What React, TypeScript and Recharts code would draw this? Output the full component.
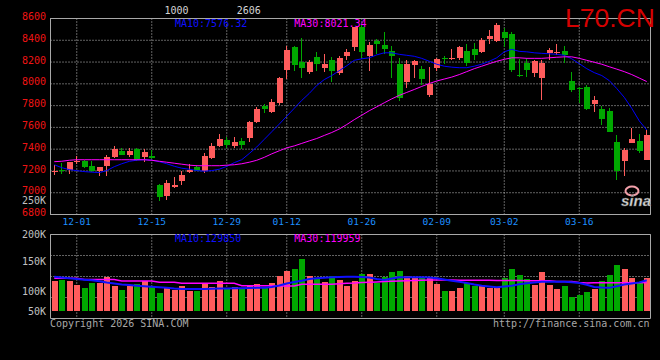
import React from 'react';
import {
  ComposedChart, Bar, Line, XAxis, YAxis, CartesianGrid, ReferenceArea, ReferenceLine,
} from 'recharts';

const DATES = [
  '11-26', '11-27', '11-28', '12-01', '12-02', '12-03', '12-04', '12-05', '12-08', '12-09',
  '12-10', '12-11', '12-12', '12-15', '12-16', '12-17', '12-18', '12-19', '12-22', '12-23',
  '12-24', '12-25', '12-26', '12-29', '12-30', '12-31', '01-05', '01-06', '01-07', '01-08',
  '01-09', '01-12', '01-13', '01-14', '01-15', '01-16', '01-19', '01-20', '01-21', '01-22',
  '01-23', '01-26', '01-27', '01-28', '01-29', '01-30', '02-02', '02-03', '02-04', '02-05',
  '02-06', '02-09', '02-10', '02-11', '02-12', '02-13', '02-24', '02-25', '02-26', '02-27',
  '03-02', '03-03', '03-04', '03-05', '03-06', '03-09', '03-10', '03-11', '03-12', '03-13',
  '03-16', '03-17', '03-18', '03-19', '03-20', '03-23', '03-24', '03-25', '03-26', '03-27',
];

const OPEN = [
  7190, 7210, 7205, 7285, 7295, 7250, 7200, 7250, 7330, 7380,
  7345, 7400, 7330, 7335, 7075, 6970, 7050, 7105, 7190, 7235,
  7195, 7315, 7425, 7485, 7430, 7475, 7500, 7645, 7795, 7740,
  7820, 8125, 8335, 8205, 8110, 8250, 8150, 8220, 8095, 8255,
  8335, 8520, 8255, 8390, 8355, 8300, 8185, 8015, 8175, 8135,
  7895, 8150, 8235, 8225, 8240, 8300, 8320, 8295, 8415, 8390,
  8475, 8455, 8085, 8195, 8095, 8055, 8280, 8285, 8300, 8030,
  7965, 7975, 7815, 7765, 7755, 7470, 7290, 7460, 7475, 7305,
];
const HIGH = [
  7257, 7270, 7285, 7340, 7300, 7290, 7240, 7345, 7425, 7410,
  7410, 7410, 7400, 7390, 7080, 7115, 7140, 7195, 7265, 7255,
  7365, 7460, 7540, 7510, 7515, 7500, 7655, 7790, 7815, 7865,
  8065, 8350, 8345, 8425, 8215, 8290, 8275, 8250, 8260, 8320,
  8525, 8545, 8385, 8410, 8475, 8345, 8240, 8220, 8220, 8160,
  8155, 8235, 8260, 8320, 8350, 8365, 8375, 8425, 8490, 8555,
  8515, 8480, 8230, 8235, 8220, 8215, 8330, 8370, 8345, 8105,
  7970, 7990, 7885, 7795, 7780, 7530, 7410, 7595, 7540, 7575,
];
const LOW = [
  7160, 7170, 7170, 7260, 7225, 7190, 7150, 7155, 7320, 7345,
  7330, 7295, 7285, 7310, 6920, 6935, 7040, 7075, 7180, 7195,
  7185, 7310, 7420, 7415, 7415, 7400, 7470, 7640, 7730, 7735,
  7810, 8045, 8115, 8055, 8090, 8115, 8110, 8020, 8080, 8215,
  8300, 8235, 8115, 8275, 8275, 8050, 7840, 7965, 8050, 7985,
  7880, 8115, 8180, 8220, 8220, 8160, 8220, 8285, 8365, 8385,
  8335, 8105, 8060, 8060, 8065, 7850, 8220, 8265, 8195, 7925,
  7820, 7760, 7740, 7620, 7560, 7120, 7155, 7455, 7365, 7300,
];
const CLOSE = [
  7200, 7200, 7280, 7292, 7240, 7200, 7235, 7330, 7400, 7350,
  7385, 7300, 7375, 7320, 6965, 7085, 7075, 7160, 7210, 7200,
  7340, 7430, 7490, 7440, 7470, 7440, 7650, 7770, 7765, 7830,
  8050, 8315, 8170, 8145, 8205, 8185, 8185, 8115, 8235, 8295,
  8520, 8290, 8360, 8365, 8320, 8260, 7870, 8185, 8210, 8045,
  8000, 8230, 8225, 8240, 8340, 8190, 8265, 8405, 8440, 8540,
  8420, 8125, 8075, 8125, 8210, 8195, 8310, 8295, 8265, 7945,
  7955, 7770, 7850, 7675, 7560, 7195, 7395, 7490, 7380, 7530,
];

const MA10 = [
  7257, 7230, 7212, 7203, 7194, 7189, 7185, 7203, 7239, 7266,
  7288, 7299, 7303, 7299, 7285, 7266, 7243, 7225, 7216, 7203,
  7198, 7203, 7216, 7242, 7276, 7303, 7360, 7420, 7490, 7560,
  7630, 7703, 7775, 7848, 7912, 7985, 8039, 8076, 8121, 8166,
  8216, 8230, 8239, 8266, 8285, 8285, 8271, 8262, 8253, 8234,
  8207, 8180, 8162, 8153, 8148, 8148, 8162, 8180, 8207, 8239,
  8294, 8317, 8298, 8294, 8285, 8280, 8276, 8271, 8262, 8230,
  8185, 8139, 8103, 8076, 8030, 7957, 7876, 7775, 7660, 7576,
];
const MA30 = [
  7285, 7289, 7298, 7303, 7303, 7303, 7303, 7303, 7303, 7303,
  7303, 7303, 7303, 7298, 7289, 7280, 7271, 7262, 7253, 7248,
  7248, 7248, 7248, 7253, 7257, 7266, 7280, 7298, 7325, 7357,
  7385, 7412, 7430, 7453, 7476, 7498, 7526, 7553, 7585, 7626,
  7671, 7712, 7753, 7789, 7826, 7862, 7894, 7921, 7948, 7976,
  8003, 8026, 8044, 8062, 8085, 8112, 8139, 8162, 8185, 8207,
  8225, 8239, 8239, 8234, 8234, 8234, 8239, 8244, 8248, 8248,
  8234, 8216, 8198, 8180, 8157, 8135, 8112, 8085, 8053, 8021,
];

// volumes in thousands of lots
const VOLUME_K = [
  126.8, 131.1, 126.8, 109.7, 98.2, 119.6, 119.6, 145.2, 106.8, 88.4,
  106.8, 114.0, 126.8, 99.9, 76.9, 98.2, 88.4, 106.8, 85.4, 85.4,
  117.0, 102.5, 126.8, 98.2, 102.5, 95.6, 106.8, 114.0, 98.2, 119.6,
  149.5, 170.8, 178.1, 220.8, 149.5, 138.3, 123.8, 148.2, 131.1, 105.5,
  126.8, 156.7, 156.7, 117.0, 145.2, 166.5, 169.5, 148.2, 138.3, 142.6,
  140.9, 114.0, 84.1, 84.1, 98.2, 117.0, 105.5, 109.7, 98.2, 98.2,
  140.9, 178.1, 152.4, 134.1, 109.7, 166.5, 109.7, 92.7, 105.5, 59.8,
  67.0, 81.1, 92.7, 126.8, 152.4, 195.1, 178.1, 140.9, 123.8, 140.9,
];
const VOL_MA10_K = [
  145.2, 141.8, 138.3, 135.4, 132.4, 129.8, 125.5, 120.4, 116.1, 111.9,
  109.7, 106.8, 104.6, 102.5, 100.3, 98.2, 94.8, 92.7, 92.7, 92.7,
  92.7, 93.5, 94.4, 95.2, 95.6, 96.1, 96.9, 97.8, 98.2, 101.2,
  107.6, 116.1, 122.5, 128.1, 135.4, 138.3, 140.5, 142.6, 143.9, 145.2,
  144.8, 143.5, 141.8, 135.4, 131.1, 137.5, 142.6, 142.6, 142.6, 142.6,
  141.3, 138.8, 133.2, 128.1, 123.4, 118.3, 111.9, 106.8, 103.3, 100.3,
  103.3, 106.8, 112.7, 117.4, 120.4, 123.8, 123.8, 123.8, 123.8, 121.3,
  118.3, 110.6, 101.2, 98.6, 97.5, 104.0, 111.5, 116.5, 121.0, 129.85,
];
const VOL_MA30_K = [
  138.3, 138.3, 138.3, 138.3, 133.2, 133.2, 133.2, 133.2, 133.2, 126.8,
  126.8, 126.8, 126.8, 126.8, 121.3, 121.3, 121.3, 117.0, 117.0, 117.0,
  117.0, 117.0, 117.0, 117.0, 117.0, 106.8, 106.8, 106.8, 106.8, 106.8,
  105.5, 105.5, 105.5, 112.7, 112.7, 112.7, 112.7, 112.7, 114.9, 117.0,
  118.3, 120.4, 121.7, 123.0, 124.3, 125.5, 126.8, 128.1, 129.4, 130.2,
  131.1, 131.1, 131.1, 131.1, 130.2, 130.2, 130.2, 130.2, 130.2, 129.0,
  129.0, 129.0, 129.0, 127.7, 127.7, 127.7, 127.7, 124.7, 124.7, 124.7,
  120.4, 118.3, 119.5, 119.5, 119.5, 119.5, 119.5, 119.5, 119.7, 119.96,
];

const DATE_TICKS = ['12-01', '12-15', '12-29', '01-12', '01-26', '02-09', '03-02', '03-16'];
const PRICE_TICKS = [6800, 7000, 7200, 7400, 7600, 7800, 8000, 8200, 8400, 8600];
const PRICE_DOMAIN = [6800, 8600];
const VOL_DOMAIN = [-33300, 325400];
const VOL_LABEL_DOMAIN = [55100, 193700];
const VOL_LABEL_TICKS = [193700, 150000, 100000, 67500];
const VOL_LABEL_TEXT = ['200K', '150K', '100K', '50K'];
const STRAY_LABEL_VALUE = 6925;

const MONO = '"DejaVu Sans Mono", monospace';
const RED = '#ff5c5c';
const GREEN = '#00a800';
const GRID = '#c4c4c4';
const FRAME = '#a8a8a8';

const rows = DATES.map((date, i) => ({
  date,
  open: OPEN[i],
  high: HIGH[i],
  low: LOW[i],
  close: CLOSE[i],
  ma10: MA10[i],
  ma30: MA30[i],
  volume: VOLUME_K[i] * 1000,
  vma10: VOL_MA10_K[i] * 1000,
  vma30: VOL_MA30_K[i] * 1000,
}));

const Candle = (props: any) => {
  const { x, y, width, height, payload } = props;
  if (!payload || x == null) return null;
  const { open, close, high, low } = payload;
  const color = close >= open ? RED : GREEN;
  const top = Math.min(y, y + height);
  const h = Math.abs(height);
  const pix = (v: number) => (high === low ? top : top + ((high - v) / (high - low)) * h);
  const left = Math.round(x);
  const w = Math.round(width);
  const cx = left + Math.floor(w / 2) - 0.5;
  const bTop = Math.round(pix(Math.max(open, close)));
  const bBot = Math.round(pix(Math.min(open, close)));
  return (
    <g>
      <line x1={cx} x2={cx} y1={Math.round(top)} y2={Math.round(top + h)} stroke={color} strokeWidth={1} />
      <rect x={left} y={bTop} width={w} height={Math.max(1, bBot - bTop)} fill={color} />
    </g>
  );
};

const VolBar = (props: any) => {
  const { x, y, width, height, payload } = props;
  if (!payload || x == null) return null;
  const color = payload.close >= payload.open ? RED : GREEN;
  const t = Math.round(Math.min(y, y + height));
  const b = Math.round(Math.max(y, y + height));
  return <rect x={Math.round(x)} y={t} width={Math.round(width)} height={Math.max(1, b - t)} fill={color} />;
};

const DateTick = (props: any) => {
  const { x, y, payload } = props;
  return (
    <text x={x} y={y + 10.3} textAnchor="middle" fill="#1e90ff" fontSize={9.5} fontFamily={MONO}>
      {payload.value}
    </text>
  );
};

const PriceTick = (props: any) => {
  const { x, y, payload } = props;
  return (
    <text x={x} y={y + 1.6} textAnchor="end" fill="#f01414" fontSize={10} fontFamily={MONO}>
      {payload.value}
    </text>
  );
};

const VolTick = (props: any) => {
  const { x, y, index } = props;
  return (
    <text x={x} y={y + 3.6} textAnchor="end" fill="#c0c0c0" fontSize={10} fontFamily={MONO}>
      {VOL_LABEL_TEXT[index]}
    </text>
  );
};

const quarterLines = (p: any) => {
  const o = p.offset;
  return [1, 2, 3].map((k) => o.top + (o.height * k) / 4);
};

function MainChart() {
  return (
    <ComposedChart width={660} height={232} data={rows} margin={{ top: 18.5, right: 9.5, bottom: 0, left: 0.5 }}>
      <CartesianGrid stroke={GRID} strokeDasharray="1 2" />
      <XAxis
        dataKey="date"
        ticks={DATE_TICKS}
        interval={0}
        axisLine={false}
        tickLine={false}
        tickSize={0}
        tickMargin={0}
        height={17.5}
        tick={<DateTick />}
      />
      <YAxis
        domain={PRICE_DOMAIN}
        ticks={PRICE_TICKS}
        interval={0}
        allowDataOverflow
        axisLine={false}
        tickLine={false}
        tickSize={0}
        tickMargin={4.5}
        width={50}
        tick={<PriceTick />}
      />
      <ReferenceArea y1={PRICE_DOMAIN[0]} y2={PRICE_DOMAIN[1]} fill="none" stroke={FRAME} ifOverflow="visible" />
      <ReferenceLine
        y={STRAY_LABEL_VALUE}
        stroke="none"
        label={{ value: '250K', position: 'left', offset: 4.5, fill: '#c0c0c0', fontSize: 10, fontFamily: MONO }}
      />
      <Bar dataKey={(d: any) => [d.low, d.high]} barSize={6} shape={<Candle />} isAnimationActive={false} />
      <Line dataKey="ma10" type="linear" stroke="#0000ff" strokeWidth={1} dot={false} isAnimationActive={false} />
      <Line dataKey="ma30" type="linear" stroke="#ff00ff" strokeWidth={1} dot={false} isAnimationActive={false} />
    </ComposedChart>
  );
}

function VolumeChart() {
  return (
    <ComposedChart width={660} height={360} data={rows} margin={{ top: 234.5, right: 9.5, bottom: 41.5, left: 0.5 }}>
      <CartesianGrid yAxisId="v" stroke={GRID} strokeDasharray="1 2" horizontalCoordinatesGenerator={quarterLines} />
      <XAxis dataKey="date" ticks={DATE_TICKS} interval={0} hide />
      <YAxis yAxisId="v" domain={VOL_DOMAIN} allowDataOverflow hide />
      <YAxis
        yAxisId="lbl"
        domain={VOL_LABEL_DOMAIN}
        ticks={VOL_LABEL_TICKS}
        interval={0}
        allowDataOverflow
        axisLine={false}
        tickLine={false}
        tickSize={0}
        tickMargin={4.5}
        width={50}
        tick={<VolTick />}
      />
      <ReferenceArea yAxisId="v" y1={VOL_DOMAIN[0]} y2={VOL_DOMAIN[1]} fill="none" stroke={FRAME} ifOverflow="visible" />
      <Bar yAxisId="v" dataKey="volume" barSize={6} shape={<VolBar />} isAnimationActive={false} />
      <Line yAxisId="v" dataKey="vma30" type="linear" stroke="#ff00ff" strokeWidth={1.5} dot={false} isAnimationActive={false} />
      <Line yAxisId="v" dataKey="vma10" type="linear" stroke="#1010ff" strokeWidth={2} dot={false} isAnimationActive={false} />
    </ComposedChart>
  );
}

export default function App() {
  return (
    <div style={{ position: 'absolute', left: 0, top: 0, width: 660, height: 360, background: '#000', overflow: 'hidden' }}>
      <div style={{ position: 'absolute', left: 0, top: 0 }}>
        <MainChart />
      </div>
      <div style={{ position: 'absolute', left: 0, top: 0 }}>
        <VolumeChart />
      </div>
      <svg width={660} height={360} style={{ position: 'absolute', left: 0, top: 0, pointerEvents: 'none' }}>
        <text x={176.5} y={13.5} textAnchor="middle" fill="#d4d4d4" fontSize={10} fontFamily={MONO}>1000</text>
        <text x={248.7} y={13.5} textAnchor="middle" fill="#d4d4d4" fontSize={10} fontFamily={MONO}>2606</text>
        <text x={175} y={27} fill="#1010ff" fontSize={10} fontFamily={MONO}>MA10:7576.32</text>
        <text x={294.3} y={27} fill="#ff00ff" fontSize={10} fontFamily={MONO}>MA30:8021.34</text>
        <text x={565} y={26.7} fill="#d40000" fontSize={26.5} fontFamily='"Liberation Sans", Arial, sans-serif'>L70.CN</text>
        <ellipse cx={632} cy={191} rx={6.5} ry={4.5} fill="none" stroke="#f2a0aa" strokeWidth={2} />
        <text x={636} y={206} textAnchor="middle" fill="#d8d8d8" stroke="#666" strokeWidth={0.4} fontSize={15} fontWeight="bold" fontStyle="italic" fontFamily='"Liberation Sans", Arial, sans-serif'>sina</text>
        <text x={175} y={242} fill="#1010ff" fontSize={10} fontFamily={MONO}>MA10:129850</text>
        <text x={294.3} y={242} fill="#ff00ff" fontSize={10} fontFamily={MONO}>MA30:119959</text>
        <text x={50} y={327} fill="#a8a8a8" fontSize={10} fontFamily={MONO}>Copyright 2026 SINA.COM</text>
        <text x={649.5} y={327} textAnchor="end" fill="#a8a8a8" fontSize={10} fontFamily={MONO}>http://finance.sina.com.cn</text>
      </svg>
    </div>
  );
}
